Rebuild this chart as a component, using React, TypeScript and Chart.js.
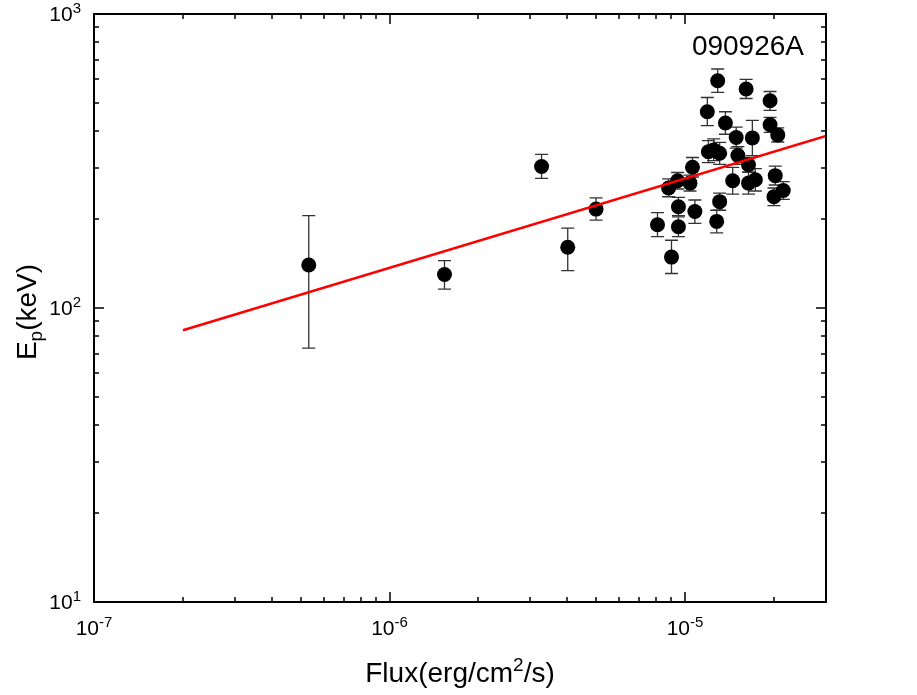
import React, { useEffect, useRef } from 'react';
import { Chart, registerables } from 'chart.js';

Chart.register(...registerables);

// ---- data ----
const fluxValues = [
  1.29e-5, 1.61e-5, 1.94e-5, 1.19e-5, 1.37e-5, 1.49e-5, 1.69e-5, 1.94e-5, 2.06e-5,
  1.2e-5, 1.25e-5, 1.31e-5, 1.51e-5, 1.64e-5, 1.06e-5, 2.02e-5, 9.44e-6, 8.8e-6,
  1.04e-5, 1.45e-5, 1.64e-5, 1.73e-5, 2.0e-5, 2.15e-5, 1.31e-5, 9.5e-6, 1.08e-5,
  8.07e-6, 9.5e-6, 1.28e-5, 9.0e-6, 3.27e-6, 5.0e-6, 4.01e-6, 5.33e-7, 1.535e-6,
];
const epValues = [
  593, 556, 507, 465, 426, 380, 379, 420, 388,
  340, 345, 336, 330, 307, 301, 282, 271, 256,
  266, 271, 266, 273, 239, 251, 230, 221, 213,
  192, 189, 197, 149, 303, 217, 161, 140, 130,
];
const epLower = [
  541, 516, 470, 417, 390, 350, 330, 396, 367,
  312, 317, 308, 308, 290, 279, 262, 254, 239,
  250, 244, 244, 250, 223, 234, 215, 206, 194,
  175, 175, 180, 131, 276, 199, 134, 73, 116,
];
const epUpper = [
  650, 599, 545, 520, 465, 412, 435, 445, 410,
  371, 376, 366, 354, 325, 325, 304, 289, 275,
  283, 301, 290, 298, 256, 269, 246, 238, 233,
  211, 204, 215, 170, 333, 237, 187, 206, 145,
];
const fitFlux = [2e-7, 3e-5];
const fitEp = [84, 385];

const xMin = 1e-7;
const xMax = 3e-5;
const yMin = 10;
const yMax = 1000;
const xTickExponents = [-7, -6, -5];
const yTickExponents = [1, 2, 3];
const xTitleMain = 'Flux(erg/cm';
const xTitleSup = '2';
const xTitleEnd = '/s)';
const yTitleMain = 'E';
const yTitleSub = 'p';
const yTitleEnd = '(keV)';
const burstLabel = '090926A';

const FONT = '"Liberation Sans", Arial, Helvetica, sans-serif';

function logTickValues(min: number, max: number) {
  const out: { v: number; major: boolean }[] = [];
  const e0 = Math.floor(Math.log10(min));
  const e1 = Math.ceil(Math.log10(max));
  for (let e = e0; e <= e1; e++) {
    for (let m = 1; m <= 9; m++) {
      const v = m * Math.pow(10, e);
      if (v > min * 1.001 && v < max * 0.999) out.push({ v, major: m === 1 });
    }
  }
  return out;
}

const framePlugin = {
  id: 'framePlugin',
  beforeDatasetsDraw(chart: any) {
    const ctx = chart.ctx;
    const xs = chart.scales.x;
    const ys = chart.scales.y;
    ctx.save();
    ctx.strokeStyle = '#333';
    ctx.lineWidth = 1.3;
    for (let i = 0; i < fluxValues.length; i++) {
      const px = xs.getPixelForValue(fluxValues[i]);
      const pLo = ys.getPixelForValue(epLower[i]);
      const pHi = ys.getPixelForValue(epUpper[i]);
      ctx.beginPath();
      ctx.moveTo(px, pLo);
      ctx.lineTo(px, pHi);
      ctx.moveTo(px - 6.5, pLo);
      ctx.lineTo(px + 6.5, pLo);
      ctx.moveTo(px - 6.5, pHi);
      ctx.lineTo(px + 6.5, pHi);
      ctx.stroke();
    }
    ctx.restore();
  },
  afterDraw(chart: any) {
    const ctx = chart.ctx;
    const a = chart.chartArea;
    const xs = chart.scales.x;
    const ys = chart.scales.y;
    ctx.save();
    // ticks
    ctx.strokeStyle = '#000';
    ctx.lineWidth = 1.5;
    ctx.beginPath();
    for (const t of logTickValues(xMin, xMax)) {
      const px = Math.round(xs.getPixelForValue(t.v));
      const len = t.major ? 10 : 5;
      ctx.moveTo(px, a.bottom);
      ctx.lineTo(px, a.bottom - len);
      ctx.moveTo(px, a.top);
      ctx.lineTo(px, a.top + len);
    }
    for (const t of logTickValues(yMin, yMax)) {
      const py = Math.round(ys.getPixelForValue(t.v));
      const len = t.major ? 10 : 5;
      ctx.moveTo(a.left, py);
      ctx.lineTo(a.left + len, py);
      ctx.moveTo(a.right, py);
      ctx.lineTo(a.right - len, py);
    }
    ctx.stroke();
    // frame
    ctx.lineWidth = 2;
    ctx.strokeRect(a.left, a.top, a.right - a.left, a.bottom - a.top);

    ctx.fillStyle = '#000';
    ctx.textBaseline = 'alphabetic';
    // x tick labels
    for (const e of xTickExponents) {
      const px = xs.getPixelForValue(Math.pow(10, e));
      ctx.font = `21px ${FONT}`;
      const w1 = ctx.measureText('10').width;
      ctx.font = `15px ${FONT}`;
      const w2 = ctx.measureText(String(e)).width;
      const x0 = px - (w1 + w2) / 2;
      ctx.textAlign = 'left';
      ctx.font = `21px ${FONT}`;
      ctx.fillText('10', x0, a.bottom + 33);
      ctx.font = `15px ${FONT}`;
      ctx.fillText(String(e), x0 + w1, a.bottom + 25);
    }
    // y tick labels
    for (const e of yTickExponents) {
      const py = ys.getPixelForValue(Math.pow(10, e));
      ctx.font = `15px ${FONT}`;
      const w2 = ctx.measureText(String(e)).width;
      ctx.font = `21px ${FONT}`;
      const w1 = ctx.measureText('10').width;
      const xr = a.left - 13;
      ctx.textAlign = 'left';
      ctx.fillText('10', xr - w2 - w1, py + 7);
      ctx.font = `15px ${FONT}`;
      ctx.fillText(String(e), xr - w2, py - 1);
    }
    // x title
    ctx.font = `28px ${FONT}`;
    const t1 = ctx.measureText(xTitleMain).width;
    const t3 = ctx.measureText(xTitleEnd).width;
    ctx.font = `19px ${FONT}`;
    const t2 = ctx.measureText(xTitleSup).width;
    const cx = (a.left + a.right) / 2;
    const x0 = cx - (t1 + t2 + t3) / 2;
    ctx.textAlign = 'left';
    ctx.font = `28px ${FONT}`;
    ctx.fillText(xTitleMain, x0, a.bottom + 80);
    ctx.font = `19px ${FONT}`;
    ctx.fillText(xTitleSup, x0 + t1, a.bottom + 69);
    ctx.font = `28px ${FONT}`;
    ctx.fillText(xTitleEnd, x0 + t1 + t2, a.bottom + 80);

    // y title (rotated)
    ctx.save();
    const cy = (a.top + a.bottom) / 2 + 4;
    ctx.translate(36, cy);
    ctx.rotate(-Math.PI / 2);
    ctx.font = `28px ${FONT}`;
    const u1 = ctx.measureText(yTitleMain).width;
    const u3 = ctx.measureText(yTitleEnd).width;
    ctx.font = `19px ${FONT}`;
    const u2 = ctx.measureText(yTitleSub).width;
    const y0 = -(u1 + u2 + u3) / 2;
    ctx.font = `28px ${FONT}`;
    ctx.fillText(yTitleMain, y0, 0);
    ctx.font = `19px ${FONT}`;
    ctx.fillText(yTitleSub, y0 + u1, 6);
    ctx.font = `28px ${FONT}`;
    ctx.fillText(yTitleEnd, y0 + u1 + u2, 0);
    ctx.restore();

    // burst label
    ctx.font = `28px ${FONT}`;
    ctx.textAlign = 'right';
    ctx.fillText(burstLabel, a.right - 22, a.top + 41);
    ctx.restore();
  },
};

export default function App() {
  const ref = useRef<HTMLCanvasElement | null>(null);
  useEffect(() => {
    if (!ref.current) return;
    const points = fluxValues.map((f, i) => ({ x: f, y: epValues[i] }));
    const fit = fitFlux.map((f, i) => ({ x: f, y: fitEp[i] }));
    const chart = new Chart(ref.current, {
      type: 'scatter',
      data: {
        datasets: [
          {
            type: 'line',
            label: 'fit',
            data: fit,
            borderColor: '#ff0000',
            borderWidth: 2.5,
            pointRadius: 0,
            fill: false,
            order: 0,
          } as any,
          {
            type: 'scatter',
            label: 'data',
            data: points,
            backgroundColor: '#000',
            borderColor: '#000',
            borderWidth: 0,
            pointRadius: 7.5,
            order: 1,
          } as any,
        ],
      },
      options: {
        responsive: false,
        animation: false,
        layout: { padding: { left: 94, right: 91, top: 14, bottom: 93 } },
        scales: {
          x: { type: 'logarithmic', min: xMin, max: xMax, display: false },
          y: { type: 'logarithmic', min: yMin, max: yMax, display: false },
        },
        plugins: {
          legend: { display: false },
          tooltip: { enabled: false },
        },
      },
      plugins: [framePlugin],
    } as any);
    return () => chart.destroy();
  }, []);
  return (
    <div style={{ position: 'absolute', left: 0, top: 0, width: 917, height: 695, background: '#fff' }}>
      <canvas ref={ref} width={917} height={695} style={{ display: 'block' }} />
    </div>
  );
}
